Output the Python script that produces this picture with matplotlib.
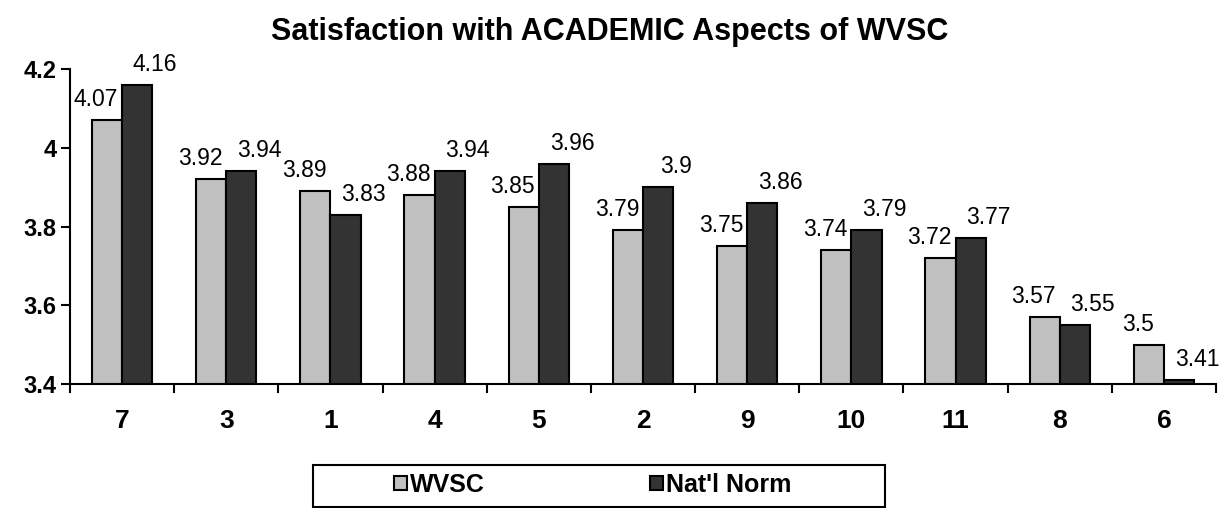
import matplotlib
matplotlib.use("Agg")
import matplotlib.pyplot as plt
from matplotlib.patches import Patch, Rectangle
import numpy as np

plt.rcParams['font.family'] = ['Liberation Sans', 'DejaVu Sans']

categories = ["7", "3", "1", "4", "5", "2", "9", "10", "11", "8", "6"]
wvsc = [4.07, 3.92, 3.89, 3.88, 3.85, 3.79, 3.75, 3.74, 3.72, 3.57, 3.50]
norm = [4.16, 3.94, 3.83, 3.94, 3.96, 3.90, 3.86, 3.79, 3.77, 3.55, 3.41]
wvsc_labels = ["4.07", "3.92", "3.89", "3.88", "3.85", "3.79", "3.75", "3.74", "3.72", "3.57", "3.5"]
norm_labels = ["4.16", "3.94", "3.83", "3.94", "3.96", "3.9", "3.86", "3.79", "3.77", "3.55", "3.41"]
yticks = [3.4, 3.6, 3.8, 4.0, 4.2]
yticklabels = ["3.4", "3.6", "3.8", "4", "4.2"]

W, H = 1221, 508
fig = plt.figure(figsize=(W / 100, H / 100), dpi=100)
ax = fig.add_axes([70 / W, 1 - 384 / H, 1146 / W, 315 / H])

x = np.arange(len(categories))
bw = 0.29
light = "#C0C0C0"
dark = "#333333"
ax.bar(x - bw / 2, wvsc, bw, color=light, edgecolor="black", linewidth=1.5, zorder=2)
ax.bar(x + bw / 2, norm, bw, color=dark, edgecolor="black", linewidth=1.5, zorder=2)

ax.set_ylim(3.4, 4.2)
ax.set_xlim(-0.5, len(categories) - 0.5)

lab_fs = 16.5
for xi, v, lab in zip(x, wvsc, wvsc_labels):
    ax.annotate(lab, (xi - bw / 2, v), xytext=(-11, 14), textcoords="offset pixels",
                ha="center", va="baseline", fontsize=lab_fs, clip_on=False)
for xi, v, lab in zip(x, norm, norm_labels):
    ax.annotate(lab, (xi + bw / 2, v), xytext=(18, 14), textcoords="offset pixels",
                ha="center", va="baseline", fontsize=lab_fs, clip_on=False)

ax.set_yticks(yticks)
ax.set_yticklabels(yticklabels, fontsize=17, fontweight="bold")
ax.tick_params(axis="y", direction="out", length=6.5, width=1.5, pad=3)

ax.set_xticks(np.arange(len(categories) + 1) - 0.5)
ax.set_xticklabels([])
ax.set_xticks(x, minor=True)
ax.set_xticklabels(categories, minor=True, fontsize=19, fontweight="bold")
ax.tick_params(axis="x", which="major", direction="out", length=6.5, width=1.5)
ax.tick_params(axis="x", which="minor", length=0, pad=18)

for s in ["top", "right"]:
    ax.spines[s].set_visible(False)
for s in ["left", "bottom"]:
    ax.spines[s].set_linewidth(1.5)
    ax.spines[s].set_color("black")

fig.text(610 / W, 1 - 32 / H, "Satisfaction with ACADEMIC Aspects of WVSC", ha="center", va="center",
         fontsize=22, fontweight="bold")

# legend frame
fig.add_artist(Rectangle((313 / W, 1 - 507 / H), (885 - 313) / W, (507 - 465) / H,
                         transform=fig.transFigure, facecolor="white", edgecolor="black",
                         linewidth=1.5, zorder=1))
handles = [Patch(facecolor=light, edgecolor="black", linewidth=1.5, label="WVSC"),
           Patch(facecolor=dark, edgecolor="black", linewidth=1.5, label="Nat'l Norm")]
leg = fig.legend(handles=handles, loc="center left", bbox_to_anchor=(394 / W, 1 - 485 / H),
                 ncol=2, frameon=False, prop={"size": 18, "weight": "bold"},
                 handlelength=0.52, handleheight=0.52, handletextpad=0.12, columnspacing=6.6,
                 borderpad=0, borderaxespad=0)
leg.set_zorder(2)

fig.savefig("out.png", dpi=100, facecolor="white")
